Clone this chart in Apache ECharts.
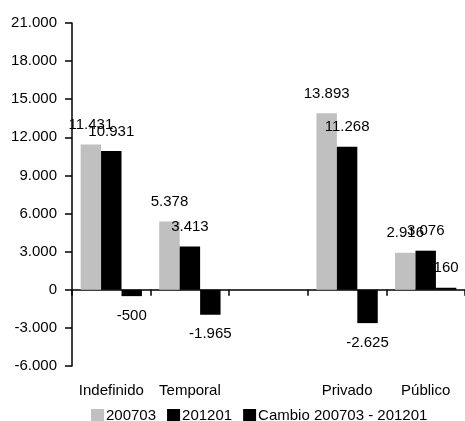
<!DOCTYPE html>
<html>
<head>
<meta charset="utf-8">
<script src="https://cdn.jsdelivr.net/npm/echarts@6/dist/echarts.min.js"></script>
<style>
  html, body { margin: 0; padding: 0; background: #fff; }
  #chart { width: 465px; height: 421px; }
</style>
</head>
<body>
<div id="chart"></div>
<script>
// datos
var categories = ['Indefinido', 'Temporal', '', 'Privado', 'Público'];
var serieNames = ['200703', '201201', 'Cambio 200703 - 201201'];
var v200703 = [11431, 5378, null, 13893, 2916];
var v201201 = [10931, 3413, null, 11268, 3076];
var cambio = [-500, -1965, null, -2625, 160];
var colores = ['#c0c0c0', '#000000', '#000000'];

function fmt(v) {
    var s = String(Math.abs(v)).replace(/\B(?=(\d{3})+(?!\d))/g, '.');
    return (v < 0 ? '-' : '') + s;
}

function toData(arr) {
    return arr.map(function (v) {
        if (v === null) return null;
        return { value: v, label: { position: v < 0 ? 'bottom' : 'top' } };
    });
}

var chart = echarts.init(document.getElementById('chart'));
var font = 'Liberation Sans, Arial, sans-serif';
var fs = 15;

chart.setOption({
    animation: false,
    textStyle: { fontFamily: font },
    legend: {
        data: serieNames,
        left: 86,
        top: 403,
        itemWidth: 13,
        itemHeight: 13,
        itemGap: 11,
        icon: 'rect',
        textStyle: { fontSize: fs, color: '#000', fontFamily: font, padding: [0, 0, 0, -3] }
    },
    grid: { left: 72, top: 23, bottom: 55, right: -7 },
    xAxis: [{
        type: 'category',
        data: categories,
        axisLine: { onZero: true, lineStyle: { color: '#000', width: 1.5 } },
        axisTick: { show: true, length: 6, lineStyle: { color: '#000', width: 1.5 } },
        axisLabel: { show: false }
    }, {
        type: 'category',
        data: categories,
        position: 'bottom',
        axisLine: { show: false, onZero: false },
        axisTick: { show: false },
        axisLabel: { interval: 0, hideOverlap: false, margin: 17, fontSize: fs, color: '#000', fontFamily: font }
    }],
    yAxis: {
        type: 'value',
        min: -6000,
        max: 21000,
        interval: 3000,
        splitLine: { show: false },
        axisLine: { show: true, lineStyle: { color: '#000', width: 1.5 } },
        axisTick: { show: true, length: 7, lineStyle: { color: '#000', width: 1.5 } },
        axisLabel: {
            margin: 15, fontSize: fs, color: '#000', fontFamily: font,
            formatter: function (v) { return fmt(v); }
        }
    },
    series: [v200703, v201201, cambio].map(function (arr, i) {
        return {
            name: serieNames[i],
            type: 'bar',
            xAxisIndex: 0,
            data: toData(arr),
            barGap: '0%',
            barCategoryGap: '22%',
            itemStyle: { color: colores[i] },
            label: {
                show: true,
                distance: 12,
                fontSize: fs,
                color: '#000',
                fontFamily: font,
                formatter: function (p) { return fmt(p.value); }
            }
        };
    })
});
</script>
</body>
</html>
